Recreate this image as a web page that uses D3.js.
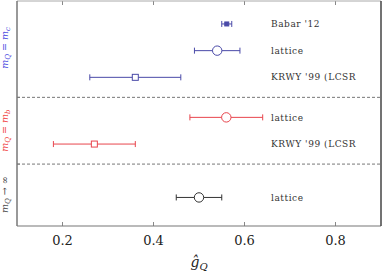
<!DOCTYPE html>
<html>
<head>
<meta charset="utf-8">
<script src="https://cdn.jsdelivr.net/npm/d3@7"></script>
<style>
  body { margin: 0; background: #fff; }
  svg { display: block; }
  text { font-family: "DejaVu Serif", "Liberation Serif", serif; }
</style>
</head>
<body>
<div id="chart"></div>
<script>
// measurements, top to bottom
var labels = ["Babar '12", "lattice", "KRWY '99 (LCSR", "lattice", "KRWY '99 (LCSR", "lattice"];
var centers = [0.561, 0.54, 0.36, 0.56, 0.27, 0.50];
var lows = [0.550, 0.49, 0.26, 0.48, 0.18, 0.45];
var highs = [0.572, 0.59, 0.46, 0.64, 0.36, 0.55];
var rowPos = [7, 6, 5, 3.5, 2.5, 0.5];
var markers = ["filled", "circle", "square", "circle", "square", "circle"];
var groups = ["c", "c", "c", "b", "b", "inf"];
var separators = [4.25, 1.75];
var xTicks = [0.2, 0.4, 0.6, 0.8];

var colors = { c: "#4a4aa8", b: "#e8454d", inf: "#333333" };
var groupLabelColors = { c: "#4646e0", b: "#f03c3c", inf: "#444444" };

var attrs = {
    width: 382,
    height: 273,
    left: 17,
    right: 381,
    top: 1,
    bottom: 226
};

var x = d3.scaleLinear().domain([0.1, 0.9]).range([attrs.left, attrs.right]);
var y = d3.scaleLinear().domain([-0.57, 7.86]).range([attrs.bottom, attrs.top]);

var svg = d3.select("#chart").append("svg")
    .attr("width", attrs.width)
    .attr("height", attrs.height);

// ticks top and bottom, pointing inward
var tg = svg.append("g");
tg.selectAll("line.bt").data(xTicks).enter().append("line")
    .attr("x1", function(d){ return x(d); }).attr("x2", function(d){ return x(d); })
    .attr("y1", attrs.bottom).attr("y2", attrs.bottom - 4)
    .style("stroke", "#888").style("stroke-width", 1);
tg.selectAll("line.tt").data(xTicks).enter().append("line")
    .attr("x1", function(d){ return x(d); }).attr("x2", function(d){ return x(d); })
    .attr("y1", attrs.top).attr("y2", attrs.top + 4)
    .style("stroke", "#888").style("stroke-width", 1);
tg.selectAll("line.lt").data(separators).enter().append("line")
    .attr("x1", attrs.left).attr("x2", attrs.left + 3)
    .attr("y1", function(d){ return y(d); }).attr("y2", function(d){ return y(d); })
    .style("stroke", "#888").style("stroke-width", 1);

tg.selectAll("text").data(xTicks).enter().append("text")
    .attr("x", function(d){ return x(d); })
    .attr("y", 245)
    .attr("text-anchor", "middle")
    .style("font-size", "13px")
    .style("fill", "#222")
    .text(function(d){ return d3.format(".1f")(d); });

// dashed separators
svg.selectAll("line.sep").data(separators).enter().append("line")
    .attr("x1", attrs.left).attr("x2", attrs.right)
    .attr("y1", function(d){ return y(d); }).attr("y2", function(d){ return y(d); })
    .style("stroke", "#777").style("stroke-width", 1)
    .style("stroke-dasharray", "3,2");

// frame
svg.append("line").attr("x1", attrs.left).attr("x2", attrs.right)
    .attr("y1", attrs.top).attr("y2", attrs.top)
    .style("stroke", "#aaa").style("stroke-width", 1);
svg.append("line").attr("x1", attrs.left).attr("x2", attrs.right)
    .attr("y1", attrs.bottom).attr("y2", attrs.bottom)
    .style("stroke", "#777").style("stroke-width", 1.2);
svg.append("line").attr("x1", attrs.left).attr("x2", attrs.left)
    .attr("y1", attrs.top).attr("y2", attrs.bottom)
    .style("stroke", "#777").style("stroke-width", 1.5);
svg.append("line").attr("x1", attrs.right).attr("x2", attrs.right)
    .attr("y1", attrs.top).attr("y2", attrs.bottom)
    .style("stroke", "#444").style("stroke-width", 1.5);

// error bars
var idx = d3.range(labels.length);
var eg = svg.append("g").selectAll("g").data(idx).enter().append("g")
    .style("stroke", function(i){ return colors[groups[i]]; })
    .style("stroke-width", 1);

eg.append("line")
    .attr("x1", function(i){ return x(lows[i]); })
    .attr("x2", function(i){ return x(highs[i]); })
    .attr("y1", function(i){ return y(rowPos[i]); })
    .attr("y2", function(i){ return y(rowPos[i]); });
eg.append("line")
    .attr("x1", function(i){ return x(lows[i]); })
    .attr("x2", function(i){ return x(lows[i]); })
    .attr("y1", function(i){ return y(rowPos[i]) - 3; })
    .attr("y2", function(i){ return y(rowPos[i]) + 3; });
eg.append("line")
    .attr("x1", function(i){ return x(highs[i]); })
    .attr("x2", function(i){ return x(highs[i]); })
    .attr("y1", function(i){ return y(rowPos[i]) - 3; })
    .attr("y2", function(i){ return y(rowPos[i]) + 3; });

eg.each(function(i){
    var g = d3.select(this);
    var cx = x(centers[i]), cy = y(rowPos[i]);
    if (markers[i] === "circle") {
        g.append("circle").attr("cx", cx).attr("cy", cy).attr("r", 4.7)
            .style("fill", "#fff");
    } else if (markers[i] === "square") {
        g.append("rect").attr("x", cx - 3).attr("y", cy - 3)
            .attr("width", 6).attr("height", 6).style("fill", "#fff");
    } else {
        g.append("rect").attr("x", cx - 2).attr("y", cy - 2)
            .attr("width", 4).attr("height", 4)
            .style("fill", colors[groups[i]]);
    }
});

// row labels
svg.selectAll("text.lab").data(idx).enter().append("text")
    .attr("x", 271)
    .attr("y", function(i){ return y(rowPos[i]); })
    .attr("dy", "0.35em")
    .style("font-size", "9px")
    .style("letter-spacing", "0.55px")
    .style("fill", "#333")
    .text(function(i){ return labels[i]; });

// group labels on the left
var groupLabels = [
    { key: "c", pos: 6.1, sub: "c" },
    { key: "b", pos: 3.0, sub: "b" },
    { key: "inf", pos: 0.6, sub: null }
];
groupLabels.forEach(function(gl){
    var t = svg.append("text")
        .attr("transform", "translate(8," + y(gl.pos) + ") rotate(-90)")
        .attr("text-anchor", "middle")
        .style("font-size", "9.5px")
        .style("fill", groupLabelColors[gl.key]);
    t.append("tspan").style("font-style", "italic").text("m");
    t.append("tspan").attr("dy", 2).style("font-size", "7px").style("font-style", "italic").text("Q");
    if (gl.sub) {
        t.append("tspan").attr("dy", -2).text(" = ");
        t.append("tspan").style("font-style", "italic").text("m");
        t.append("tspan").attr("dy", 2).style("font-size", "7px").style("font-style", "italic").text(gl.sub);
    } else {
        t.append("tspan").attr("dy", -2).text(" \u2192 \u221E");
    }
});

// x axis title
var xt = svg.append("text")
    .attr("x", 199).attr("y", 267)
    .attr("text-anchor", "middle")
    .style("font-size", "14px")
    .style("fill", "#222");
xt.append("tspan").style("font-style", "italic").text("\u011D");
xt.append("tspan").attr("dy", 3).style("font-size", "10px").style("font-style", "italic").text("Q");
</script>
</body>
</html>
